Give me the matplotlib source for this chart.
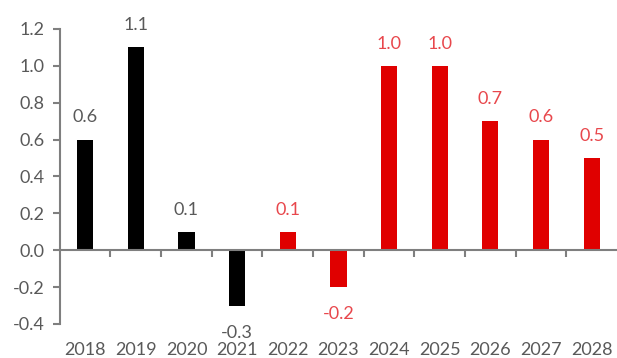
import matplotlib
matplotlib.use("Agg")
import matplotlib.pyplot as plt
import matplotlib.transforms as mtransforms

# dados
anos = ["2018", "2019", "2020", "2021", "2022", "2023", "2024", "2025", "2026", "2027", "2028"]
valores = [0.6, 1.1, 0.1, -0.3, 0.1, -0.2, 1.0, 1.0, 0.7, 0.6, 0.5]
rotulos = ["0.6", "1.1", "0.1", "-0.3", "0.1", "-0.2", "1.0", "1.0", "0.7", "0.6", "0.5"]
previsao = [False, False, False, False, True, True, True, True, True, True, True]

cinza = "#595959"
vermelho = "#E00000"
vermelho_txt = "#E8474C"

plt.rcParams["font.family"] = ["Lato", "DejaVu Sans"]

fig = plt.figure(figsize=(6.17, 3.58), dpi=100)
ax = fig.add_axes([0.097, 0.095, 0.903, 0.824])

x = list(range(len(anos)))
cores = [vermelho if p else "black" for p in previsao]
ax.bar(x, valores, width=0.32, color=cores, zorder=2)

# rotulos dos valores
for xi, v, r, p in zip(x, valores, rotulos, previsao):
    off = 16 if v >= 0 else -19.5
    ax.annotate(r, (xi, v), xytext=(0, off), textcoords="offset points",
                ha="center", va="center", fontsize=13,
                color=vermelho_txt if p else cinza)

ax.set_xlim(-0.5, len(anos) - 0.5)
ax.set_ylim(-0.4, 1.2)
ax.set_yticks([-0.4, -0.2, 0.0, 0.2, 0.4, 0.6, 0.8, 1.0, 1.2])
ax.set_yticklabels(["-0.4", "-0.2", "0.0", "0.2", "0.4", "0.6", "0.8", "1.0", "1.2"])

# eixo x passando pelo zero, ticks nas divisas
ax.spines["bottom"].set_position(("data", 0))
ax.spines["top"].set_visible(False)
ax.spines["right"].set_visible(False)
for s in ["left", "bottom"]:
    ax.spines[s].set_color("#7f7f7f")
    ax.spines[s].set_linewidth(1.5)
ax.set_xticks([i + 0.5 for i in x[:-1]])
ax.set_xticklabels([])
ax.tick_params(axis="x", direction="out", length=5, width=1.5, color="#7f7f7f")
ax.tick_params(axis="y", direction="out", length=5, width=1.5, color="#7f7f7f",
               labelsize=13, labelcolor=cinza, pad=6)

# nomes dos anos embaixo
trans = mtransforms.blended_transform_factory(ax.transData, ax.transAxes)
for xi, a in zip(x, anos):
    ax.text(xi, -0.088, a, transform=trans, ha="center", va="center",
            fontsize=13, color=cinza)

fig.savefig("out.png", dpi=100)
